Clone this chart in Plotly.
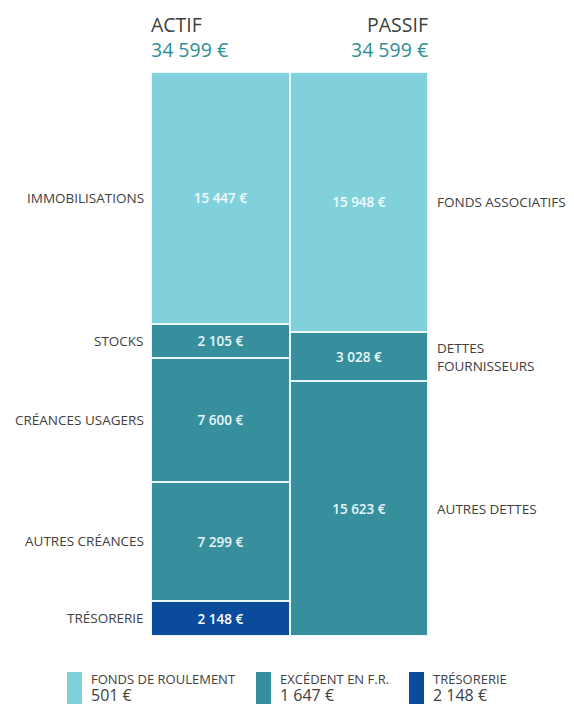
import numpy as np
import plotly.graph_objects as go

# ---- data ----
actif_labels = ["IMMOBILISATIONS", "STOCKS", "CRÉANCES USAGERS", "AUTRES CRÉANCES", "TRÉSORERIE"]
actif_values = [15447, 2105, 7600, 7299, 2148]
passif_labels = ["FONDS ASSOCIATIFS", "DETTES<br>FOURNISSEURS", "AUTRES DETTES"]
passif_values = [15948, 3028, 15623]
columns = ["ACTIF", "PASSIF"]
legend_labels = ["FONDS DE ROULEMENT", "EXCÉDENT EN F.R.", "TRÉSORERIE"]
legend_values = [501, 1647, 2148]

LIGHT = "#80D1DC"
TEAL = "#378F9D"
DARK = "#0A4C9B"
actif_colors = [LIGHT, TEAL, TEAL, TEAL, DARK]
passif_colors = [LIGHT, TEAL, TEAL]
actif_text = ["#F2FBFC", "#E8F7FA", "#E8F7FA", "#E8F7FA", "#FFFFFF"]
passif_text = ["#F2FBFC", "#E8F7FA", "#E8F7FA"]
legend_colors = [LIGHT, TEAL, DARK]

FONT = "Open Sans"
GREY = "#404040"
NUM_COLOR = "#2F8F93"

def fmt(v):
    return f"{v:,}".replace(",", " ") + " €"

fig = go.Figure()

def add_column(xpos, labels, values, colors, tcolors):
    # stack from the bottom: reverse order
    for lab, val, col, tc in list(zip(labels, values, colors, tcolors))[::-1]:
        fig.add_trace(go.Bar(
            x=[xpos], y=[val], width=1,
            marker=dict(color=col, line=dict(color="#E8F8FA", width=2)),
            text=[val], texttemplate="%{y:,.0f} €",
            textposition="inside", insidetextanchor="middle",
            textfont=dict(family=FONT, size=13.5, color=tc, weight=600),
            constraintext="none", showlegend=False, hoverinfo="skip",
        ))

add_column(0, actif_labels, actif_values, actif_colors, actif_text)
add_column(1, passif_labels, passif_values, passif_colors, passif_text)

total = sum(actif_values)

annotations = []
def centers(values):
    v = np.array(values[::-1], dtype=float)
    c = np.cumsum(v) - v / 2
    return list(c[::-1])

for lab, cy in zip(actif_labels, centers(actif_values)):
    annotations.append(dict(x=-0.5, y=cy, xref="x", yref="y", text=lab, showarrow=False,
                            xanchor="right", yanchor="middle", xshift=-5,
                            font=dict(family=FONT, size=13.5, color=GREY)))
for lab, cy in zip(passif_labels, centers(passif_values)):
    annotations.append(dict(x=1.5, y=cy, xref="x", yref="y", text=lab, showarrow=False,
                            xanchor="left", yanchor="middle", xshift=7, align="left",
                            font=dict(family=FONT, size=13.5, color=GREY)))

# legend / header placement helpers (window pixels -> paper units)
plot_left, plot_w = 151, 277
plot_bottom, plot_h = 636, 564
def px_x(px):
    return (px - plot_left) / plot_w
def px_y(py):
    return (plot_bottom - py) / plot_h

# headers: title + total in one two-line annotation
for i, col in enumerate(columns):
    xa = "left" if i == 0 else "right"
    xp = 0 if i == 0 else 1
    annotations.append(dict(x=xp, y=px_y(37), xref="paper", yref="paper",
                            text=f"{col}<br><span style='color:{NUM_COLOR}'>{fmt(total)}</span>",
                            showarrow=False, align=xa,
                            xanchor=xa, yanchor="middle", xshift=-2 if i == 0 else 2,
                            font=dict(family=FONT, size=19.5, color=GREY)))

shapes = []
legend_x = [67, 256, 409]
for lx, lab, val, col in zip(legend_x, legend_labels, legend_values, legend_colors):
    shapes.append(dict(type="rect", xref="paper", yref="paper",
                       x0=px_x(lx), x1=px_x(lx + 15), y0=px_y(672), y1=px_y(712),
                       fillcolor=col, line=dict(width=0), layer="above"))
    annotations.append(dict(x=px_x(lx + 23), y=px_y(669), xref="paper", yref="paper",
                            text=f"{lab}<br><span style='font-size:16px'>{fmt(val)}</span>",
                            showarrow=False, xanchor="left", yanchor="top", align="left",
                            borderpad=0,
                            font=dict(family=FONT, size=13, color=GREY)))

# the page body adds an 8px margin: figure is shrunk so it fits the 574x704 window
fig.update_layout(
    width=566, height=696,
    margin=dict(l=143, r=146, t=64, b=68),
    barmode="stack", bargap=0,
    separators=", ",
    plot_bgcolor="white", paper_bgcolor="white",
    xaxis=dict(visible=False, range=[-0.5, 1.5], fixedrange=True),
    yaxis=dict(visible=False, range=[0, total], fixedrange=True),
    annotations=annotations, shapes=shapes,
    showlegend=False,
)

fig.write_html("out.html")
